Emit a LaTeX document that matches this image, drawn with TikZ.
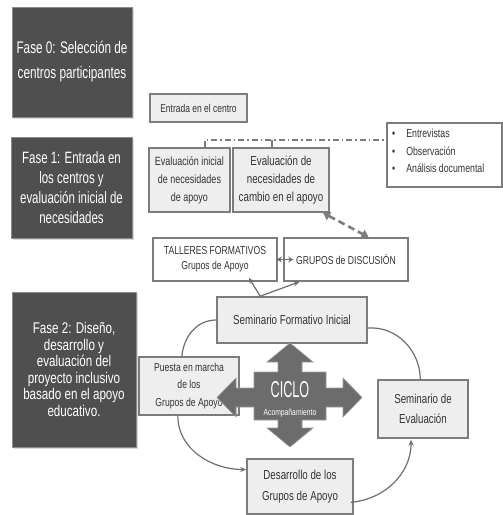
\documentclass[tikz,border=0pt]{standalone}
\usepackage{fontspec}
\setmainfont{Liberation Sans}[FakeStretch=0.75]
\newfontfamily\narrowfont{Liberation Sans}[FakeStretch=0.7]
\newfontfamily\ciclofont{Liberation Sans}[FakeStretch=0.55]
\usetikzlibrary{shadows,arrows.meta,calc}
\definecolor{darkfill}{HTML}{4F4F4F}
\definecolor{darkedge}{HTML}{8C8C8C}
\definecolor{lightfill}{HTML}{EEEEEE}
\definecolor{boxedge}{HTML}{7C7C7C}
\definecolor{connc}{HTML}{6E6E6E}
\definecolor{crossfill}{HTML}{6C6C6C}
\definecolor{crossedge}{HTML}{9A9A9A}
\definecolor{txt}{HTML}{333333}
\begin{document}
\begin{tikzpicture}[x=1pt,y=1pt,
  darkbox/.style={draw=darkedge, line width=1pt, fill=darkfill, text=white, inner sep=0pt, align=center,
    drop shadow={shadow xshift=1.5pt, shadow yshift=-1.5pt, opacity=0.3}},
  lightbox/.style={draw=boxedge, line width=1.6pt, fill=lightfill, text=txt, inner sep=0pt, align=center},
  whitebox/.style={lightbox, fill=white},
  conn/.style={draw=connc, line width=1.2pt},
  tip/.style={-{Stealth[length=6pt,width=5pt]}}
]
\useasboundingbox (0,0) rectangle (503,-515);

% phase boxes
\node[darkbox, minimum width=120pt, minimum height=110pt, font=\narrowfont\fontsize{16.8}{25}\selectfont] (f0) at (72,-62) {Fase 0: Selección de\\centros participantes};
\node[darkbox, minimum width=121pt, minimum height=101pt, font=\narrowfont\fontsize{16.4}{20}\selectfont] (f1) at (71.5,-187.5) {Fase 1: Entrada en\\los centros y\\evaluación inicial de\\necesidades};
\node[darkbox, minimum width=124pt, minimum height=155pt, font=\fontsize{15.5}{16.5}\selectfont] (f2) at (74,-369.5) {Fase 2: Diseño,\\desarrollo y\\evaluación del\\proyecto inclusivo\\basado en el apoyo\\educativo.};

% phase 1 boxes
\node[lightbox, minimum width=97pt, minimum height=28pt, font=\fontsize{11.3}{14}\selectfont] (entrada) at (198.5,-108) {Entrada en el centro};
\node[lightbox, minimum width=81pt, minimum height=64pt, font=\fontsize{12}{18}\selectfont] (ei) at (189.5,-180) {Evaluación inicial\\de necesidades\\de apoyo};
\node[lightbox, minimum width=96pt, minimum height=64pt, font=\fontsize{13}{18}\selectfont] (ec) at (281,-180) {Evaluación de\\necesidades de\\cambio en el apoyo};
\node[whitebox, minimum width=115pt, minimum height=64pt] (bul) at (444.5,-155) {};
\node[anchor=west, align=left, text=txt, inner sep=0pt, font=\fontsize{11.7}{17.5}\selectfont] (bultext) at (392,-151)
  {•\hspace{11pt}Entrevistas\\•\hspace{11pt}Observación\\•\hspace{11pt}Análisis documental};

% workshops / discussion
\node[whitebox, minimum width=124pt, minimum height=43pt, font=\fontsize{11.5}{15}\selectfont] (tall) at (215,-259.5) {TALLERES FORMATIVOS\\Grupos de Apoyo};
\node[whitebox, minimum width=124pt, minimum height=43pt, font=\fontsize{11.5}{15}\selectfont] (grp) at (346,-259.5) {GRUPOS de DISCUSIÓN};

% cycle boxes
\node[lightbox, minimum width=150pt, minimum height=46pt, font=\fontsize{13}{18}\selectfont] (semfi) at (292,-320) {Seminario Formativo Inicial};
\node[lightbox, minimum width=100pt, minimum height=58pt, font=\fontsize{11.5}{17.5}\selectfont] (puesta) at (189,-386) {Puesta en marcha\\de los\\Grupos de Apoyo};
\node[lightbox, minimum width=90pt, minimum height=58pt, font=\fontsize{13}{20}\selectfont] (semev) at (423,-409) {Seminario de\\Evaluación};
\node[lightbox, minimum width=106pt, minimum height=55pt, font=\fontsize{13}{21}\selectfont] (des) at (300,-486.5) {Desarrollo de los\\Grupos de Apoyo};

% central cross
\draw[fill=crossfill, draw=crossedge, line width=0.6pt]
  (290,-343) -- (313,-362) -- (302,-362) -- (302,-372) -- (326,-372) -- (326,-388) -- (343,-388) -- (343,-378)
  -- (362,-397.5) -- (343,-417) -- (343,-407) -- (326,-407) -- (326,-420) -- (302,-420) -- (302,-428) -- (313,-428)
  -- (290,-447) -- (267,-428) -- (278,-428) -- (278,-420) -- (254,-420) -- (254,-407) -- (236,-407) -- (236,-417)
  -- (217,-397.5) -- (236,-378) -- (236,-388) -- (254,-388) -- (254,-372) -- (278,-372) -- (278,-362) -- (267,-362) -- cycle;
\node[text=white, inner sep=0pt, font=\ciclofont\fontsize{23}{23}\selectfont] (ciclo) at (290,-390) {CICLO};
\node[text=white, inner sep=0pt, font=\fontsize{9}{9}\selectfont] (acomp) at (290,-413) {Acompañamiento};

% dash-dot connector to bullet box
\coordinate (eitop) at ($(ei.north west)!0.69!(ei.north east)$);
\coordinate (ectop) at ($(ec.north west)!0.41!(ec.north east)$);
\coordinate (bulpt) at ($(bul.north west)!0.27!(bul.south west)$);
\draw[draw=boxedge, line width=1.5pt, dash pattern=on 6pt off 3pt on 1.5pt off 3pt] (eitop) |- (bulpt);
\draw[draw=boxedge, line width=1.5pt] (ectop) -- (ectop |- bulpt);

% dashed double arrow
\draw[draw=boxedge, line width=2.6pt, dash pattern=on 7pt off 4pt, {Triangle[length=7pt,width=9pt]}-{Triangle[length=7pt,width=9pt]}]
  ($(ec.south west)!0.93!(ec.south east)$) -- ($(grp.north west)!0.68!(grp.north east)$);

% arrows between workshops
\draw[conn, {Stealth[length=5pt,width=6pt]}-{Stealth[length=5pt,width=6pt]}] ($(tall.east)+(-1,0)$) -- ($(grp.west)+(10,0)$);
\coordinate (sfa) at ($(semfi.north west)!0.29!(semfi.north east)$);
\draw[conn, tip] (sfa) -- ($(tall.south west)!0.77!(tall.south east)+(0,4)$);
\draw[conn, tip] (sfa) -- ($(grp.south west)!0.13!(grp.south east)$);

% cycle curves
\draw[conn] ($(puesta.north west)!0.43!(puesta.north east)$) to[out=85, in=180] (semfi.west);
\draw[conn] ($(semfi.north east)!0.67!(semfi.south east)$) to[out=5, in=90] ($(semev.north west)!0.47!(semev.north east)$);
\draw[conn, tip] ($(puesta.south west)!0.39!(puesta.south east)$) to[out=-90, in=180] ($(des.north west)!0.2!(des.south west)$);
\draw[conn, tip] ($(des.north east)!0.78!(des.south east)+(-3,0)$) to[out=5, in=-90] ($(semev.south west)!0.37!(semev.south east)+(0,-1)$);
\end{tikzpicture}
\end{document}
